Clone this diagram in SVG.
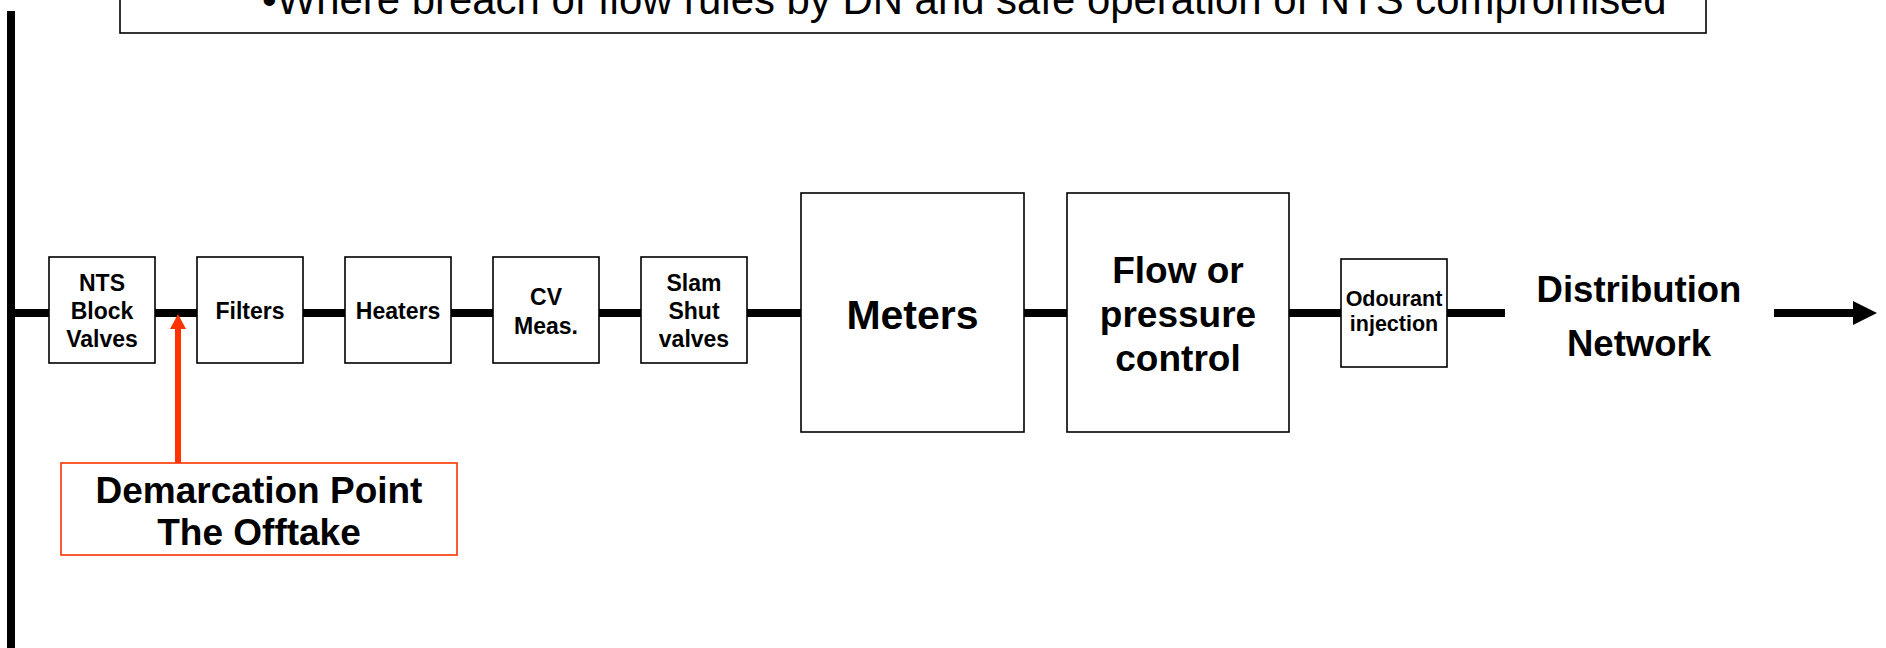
<svg xmlns="http://www.w3.org/2000/svg" width="1886" height="648" viewBox="0 0 1886 648">
<style>
.box{fill:#fff;stroke:#000;stroke-width:1.6}
.lbl{font-family:"Liberation Sans",Arial,sans-serif;font-weight:bold;fill:#000;text-anchor:middle}
.sm{font-size:23px}
.pipe{stroke:#000;stroke-width:8;fill:none}
</style>
<rect width="1886" height="648" fill="#fff"/>
<g id="note">
<rect x="120" y="-10" width="1586" height="43" fill="#fff" stroke="#000" stroke-width="1.6"/>
<text x="262" y="14" font-family="'Liberation Sans',Arial,sans-serif" font-size="41.9" fill="#000">•Where breach of flow rules by DN and safe operation of NTS compromised</text>
</g>
<g id="connectors">
<line x1="11" y1="11" x2="11" y2="648" stroke="#000" stroke-width="8"/>
<line class="pipe" x1="11" y1="313" x2="1505" y2="313"/>
<line class="pipe" x1="1774" y1="313" x2="1855" y2="313"/>
<path d="M1853,301 L1877,313 L1853,325 Z" fill="#000"/>
<line x1="178" y1="463" x2="178" y2="328" stroke="#FF3300" stroke-width="6"/>
<path d="M170,329 L178,314 L186,329 Z" fill="#FF3300"/>
</g>
<g id="nts">
<rect class="box" x="49" y="257" width="106" height="106"/>
<text class="lbl sm" x="102" y="291">NTS</text>
<text class="lbl sm" x="102" y="319">Block</text>
<text class="lbl sm" x="102" y="347">Valves</text>
</g>
<g id="filters">
<rect class="box" x="197" y="257" width="106" height="106"/>
<text class="lbl sm" x="250" y="319">Filters</text>
</g>
<g id="heaters">
<rect class="box" x="345" y="257" width="106" height="106"/>
<text class="lbl sm" x="398" y="319">Heaters</text>
</g>
<g id="cv">
<rect class="box" x="493" y="257" width="106" height="106"/>
<text class="lbl sm" x="546" y="305">CV</text>
<text class="lbl sm" x="546" y="334">Meas.</text>
</g>
<g id="slam">
<rect class="box" x="641" y="257" width="106" height="106"/>
<text class="lbl sm" x="694" y="291">Slam</text>
<text class="lbl sm" x="694" y="319">Shut</text>
<text class="lbl sm" x="694" y="347">valves</text>
</g>
<g id="meters">
<rect class="box" x="801" y="193" width="223" height="239"/>
<text class="lbl" font-size="41" x="912.5" y="329">Meters</text>
</g>
<g id="flow">
<rect class="box" x="1067" y="193" width="222" height="239"/>
<text class="lbl" font-size="37" x="1178" y="283">Flow or</text>
<text class="lbl" font-size="37" x="1178" y="327">pressure</text>
<text class="lbl" font-size="37" x="1178" y="371">control</text>
</g>
<g id="odourant">
<rect class="box" x="1341" y="259" width="106" height="108"/>
<text class="lbl" font-size="21.5" x="1394" y="306">Odourant</text>
<text class="lbl" font-size="21.5" x="1394" y="331">injection</text>
</g>
<g id="distribution">
<text class="lbl" font-size="36.5" x="1639" y="302">Distribution</text>
<text class="lbl" font-size="36.5" x="1639" y="356">Network</text>
</g>
<g id="demarcation">
<rect x="61" y="463" width="396" height="92" fill="#fff" stroke="#FF3300" stroke-width="1.6"/>
<text class="lbl" font-size="37" x="259" y="503">Demarcation Point</text>
<text class="lbl" font-size="37" x="259" y="545">The Offtake</text>
</g>
</svg>
